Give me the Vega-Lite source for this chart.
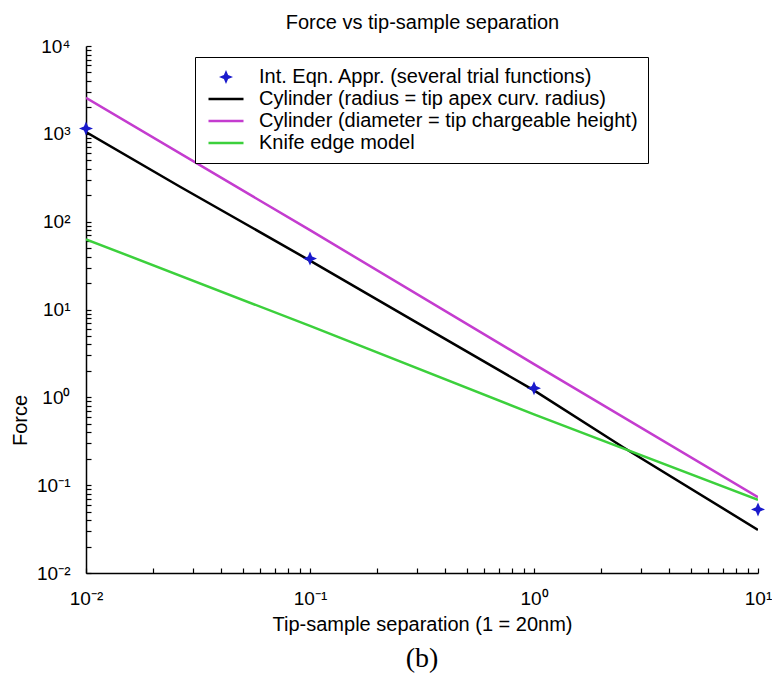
{
  "$schema": "https://vega.github.io/schema/vega-lite/v6.json",
  "width": 672,
  "height": 527,
  "autosize": "none",
  "padding": {"left": 86, "top": 46, "right": 14, "bottom": 109},
  "background": "white",
  "title": {"text": "(b)", "orient": "bottom", "anchor": "middle", "font": "Liberation Serif", "fontSize": 28, "fontWeight": "normal", "color": "black", "offset": 11},
  "config": {
    "view": {"stroke": null},
    "axis": {
      "grid": false,
      "domainColor": "black",
      "domainWidth": 1.5,
      "tickColor": "black",
      "tickWidth": 1.2,
      "tickSize": -5,
      "labelFont": "Liberation Sans",
      "labelFontSize": 19,
      "labelColor": "black",
      "labelOverlap": false,
      "labelFlush": false,
      "labelLimit": 400,
      "titleFont": "Liberation Sans",
      "titleFontSize": 20,
      "titleFontWeight": "normal",
      "titleColor": "black"
    }
  },
  "data": {
    "values": [
      {"series": "Int. Eqn. Appr. (several trial functions)", "x": 0.01, "y": 1150},
      {"series": "Int. Eqn. Appr. (several trial functions)", "x": 0.1, "y": 38},
      {"series": "Int. Eqn. Appr. (several trial functions)", "x": 1, "y": 1.27},
      {"series": "Int. Eqn. Appr. (several trial functions)", "x": 10, "y": 0.053},
      {"series": "Cylinder (radius = tip apex curv. radius)", "x": 0.01, "y": 1050},
      {"series": "Cylinder (radius = tip apex curv. radius)", "x": 0.0263, "y": 250},
      {"series": "Cylinder (radius = tip apex curv. radius)", "x": 0.1, "y": 36},
      {"series": "Cylinder (radius = tip apex curv. radius)", "x": 0.3, "y": 7.1},
      {"series": "Cylinder (radius = tip apex curv. radius)", "x": 1, "y": 1.2},
      {"series": "Cylinder (radius = tip apex curv. radius)", "x": 2.5, "y": 0.27},
      {"series": "Cylinder (radius = tip apex curv. radius)", "x": 10, "y": 0.031},
      {"series": "Cylinder (diameter = tip chargeable height)", "x": 0.01, "y": 2570},
      {"series": "Cylinder (diameter = tip chargeable height)", "x": 0.1, "y": 80},
      {"series": "Cylinder (diameter = tip chargeable height)", "x": 1, "y": 2.39},
      {"series": "Cylinder (diameter = tip chargeable height)", "x": 10, "y": 0.073},
      {"series": "Knife edge model", "x": 0.01, "y": 63},
      {"series": "Knife edge model", "x": 0.1, "y": 6.5},
      {"series": "Knife edge model", "x": 1, "y": 0.64},
      {"series": "Knife edge model", "x": 10, "y": 0.068}
    ]
  },
  "layer": [
    {
      "transform": [{"filter": "datum.series != 'Int. Eqn. Appr. (several trial functions)'"}],
      "mark": {"type": "line", "strokeWidth": 2.5, "clip": true},
      "encoding": {
        "x": {
          "field": "x", "type": "quantitative",
          "scale": {"type": "log", "domain": [0.01, 10]},
          "axis": {
            "orient": "bottom",
            "values": [0.01,0.02,0.03,0.04,0.05,0.06,0.07,0.08,0.09,0.1,0.2,0.3,0.4,0.5,0.6,0.7,0.8,0.9,1,2,3,4,5,6,7,8,9,10],
            "labelExpr": "datum.value == 0.01 ? '10⁻²' : datum.value == 0.1 ? '10⁻¹' : datum.value == 1 ? '10⁰' : datum.value == 10 ? '10¹' : ''",
            "labelPadding": 21,
            "title": "Tip-sample separation (1 = 20nm)",
            "titlePadding": 6
          }
        },
        "y": {
          "field": "y", "type": "quantitative",
          "scale": {"type": "log", "domain": [0.01, 10000]},
          "axis": {
            "values": [0.01,0.02,0.03,0.04,0.05,0.06,0.07,0.08,0.09,0.1,0.2,0.3,0.4,0.5,0.6,0.7,0.8,0.9,1,2,3,4,5,6,7,8,9,10,20,30,40,50,60,70,80,90,100,200,300,400,500,600,700,800,900,1000,2000,3000,4000,5000,6000,7000,8000,9000,10000],
            "labelExpr": "datum.value == 0.01 ? '10⁻²' : datum.value == 0.1 ? '10⁻¹' : datum.value == 1 ? '10⁰' : datum.value == 10 ? '10¹' : datum.value == 100 ? '10²' : datum.value == 1000 ? '10³' : datum.value == 10000 ? '10⁴' : ''",
            "labelPadding": 21,
            "title": "Force",
            "titleColor": "black",
            "titleX": -66,
            "titleY": 374,
            "titleAlign": "center",
            "titleBaseline": "middle"
          }
        },
        "stroke": {
          "field": "series", "type": "nominal",
          "scale": {
            "domain": ["Int. Eqn. Appr. (several trial functions)", "Cylinder (radius = tip apex curv. radius)", "Cylinder (diameter = tip chargeable height)", "Knife edge model"],
            "range": ["#1a1acc", "#000000", "#c43ccf", "#3cd03c"]
          },
          "legend": {
            "orient": "none",
            "legendX": 109,
            "legendY": 11,
            "title": null,
            "strokeColor": "black",
            "fillColor": "white",
            "padding": 10,
            "symbolOffset": 11,
            "symbolType": "M-2.5,0L2.5,0",
            "symbolSize": 196,
            "symbolStrokeWidth": 2.5,
            "labelFont": "Liberation Sans",
            "labelFontSize": 20,
            "labelColor": "black",
            "labelLimit": 500,
            "labelOffset": 23,
            "rowPadding": 2,
            "encode": {
              "symbols": {
                "update": {
                  "shape": {"signal": "datum.value == 'Int. Eqn. Appr. (several trial functions)' ? 'M0,-1L0.3,-0.3L1,0L0.3,0.3L0,1L-0.3,0.3L-1,0L-0.3,-0.3Z' : 'M-2.5,0L2.5,0'"},
                  "fill": {"signal": "datum.value == 'Int. Eqn. Appr. (several trial functions)' ? '#1a1acc' : 'transparent'"},
                  "strokeWidth": {"signal": "datum.value == 'Int. Eqn. Appr. (several trial functions)' ? 0 : 2.5"}
                }
              }
            }
          }
        }
      }
    },
    {
      "transform": [{"filter": "datum.series == 'Int. Eqn. Appr. (several trial functions)'"}],
      "mark": {"type": "point", "shape": "M0,-1L0.3,-0.3L1,0L0.3,0.3L0,1L-0.3,0.3L-1,0L-0.3,-0.3Z", "filled": true, "size": 196, "color": "#1a1acc", "opacity": 1, "clip": false},
      "encoding": {
        "x": {
          "field": "x", "type": "quantitative",
          "scale": {"type": "log", "domain": [0.01, 10]},
          "axis": {"orient": "top", "domain": false, "ticks": false, "labels": false, "title": "Force vs tip-sample separation", "titlePadding": 14}
        },
        "y": {"field": "y", "type": "quantitative"}
      }
    }
  ],
  "resolve": {"axis": {"x": "independent"}}
}
